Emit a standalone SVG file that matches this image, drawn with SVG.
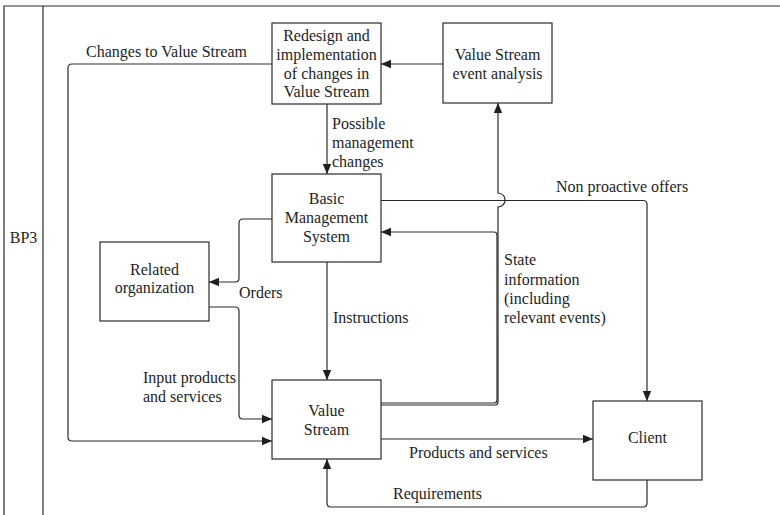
<svg xmlns="http://www.w3.org/2000/svg" width="780" height="515" viewBox="0 0 780 515" font-family="Liberation Serif, DejaVu Serif, serif" font-size="16">
  <style>
    .box { fill: #ffffff; stroke: #2b2b2b; stroke-width: 1.2; }
    .frame { fill: none; stroke: #2b2b2b; stroke-width: 1.2; }
    .wire { fill: none; stroke: #2b2b2b; stroke-width: 1.2; }
    .lbl { fill: #1e1e1e; }
    .mid { text-anchor: middle; }
  </style>
  <defs>
    <marker id="arrow" viewBox="0 0 10 10" refX="10" refY="5" markerWidth="10" markerHeight="10" markerUnits="userSpaceOnUse" orient="auto">
      <path d="M0,0.8 L10,5 L0,9.2 Z" fill="#1e1e1e"/>
    </marker>
  </defs>
  <rect width="780" height="515" fill="#ffffff"/>

  <!-- Pool frame with lane header -->
  <g id="frame">
    <path class="frame" d="M4,515 V6 H780"/>
    <line class="frame" x1="43" y1="6" x2="43" y2="515"/>
    <text class="lbl mid" x="23.5" y="243">BP3</text>
  </g>

  <!-- Connectors -->
  <g id="connectors">
    <!-- Value Stream event analysis -> Redesign -->
    <path class="wire" d="M443,64 H381" marker-end="url(#arrow)"/>
    <!-- Redesign -> Basic Management System -->
    <path class="wire" d="M327,104 V174" marker-end="url(#arrow)"/>
    <!-- Changes to Value Stream -->
    <path class="wire" d="M272,64 H72 Q68,64 68,68 V437 Q68,441 72,441 H272" marker-end="url(#arrow)"/>
    <!-- Orders -->
    <path class="wire" d="M272,219 H243 Q239,219 239,223 V278 Q239,282 235,282 H209" marker-end="url(#arrow)"/>
    <!-- Input products and services -->
    <path class="wire" d="M209,307 H235 Q239,307 239,311 V415 Q239,419 243,419 H272" marker-end="url(#arrow)"/>
    <!-- Instructions -->
    <path class="wire" d="M327,262 V380" marker-end="url(#arrow)"/>
    <!-- State information back to Basic Management System -->
    <path class="wire" d="M381,403 H494 Q497,403 497,400 V235 Q497,232 494,232 H381" marker-end="url(#arrow)"/>
    <!-- Value Stream events to analysis, hopping over the offers line -->
    <path class="wire" d="M381,405 H495 Q498,405 498,402 V207 Q505,206 505,200 Q505,194 498,193 V103" marker-end="url(#arrow)"/>
    <!-- Non proactive offers -->
    <path class="wire" d="M381,200.5 H643 Q647,200.5 647,204.5 V401" marker-end="url(#arrow)"/>
    <!-- Products and services -->
    <path class="wire" d="M381,439 H593" marker-end="url(#arrow)"/>
    <!-- Requirements -->
    <path class="wire" d="M647,480 V503 Q647,507 643,507 H331 Q327,507 327,503 V459" marker-end="url(#arrow)"/>

    <g class="lbl">
      <text x="86" y="57">Changes to Value Stream</text>
      <text x="332" y="129">Possible</text>
      <text x="332" y="148">management</text>
      <text x="332" y="167">changes</text>
      <text x="239" y="298">Orders</text>
      <text x="143" y="383">Input products</text>
      <text x="143" y="402">and services</text>
      <text x="333" y="323">Instructions</text>
      <text x="556" y="192">Non proactive offers</text>
      <text x="504" y="265">State</text>
      <text x="504" y="285">information</text>
      <text x="504" y="304">(including</text>
      <text x="504" y="323">relevant events)</text>
      <text x="409" y="458">Products and services</text>
      <text x="393" y="499">Requirements</text>
    </g>
  </g>

  <g id="redesign" class="lbl">
    <rect class="box" x="272" y="23" width="109" height="81"/>
    <text x="326.5" y="41" class="mid">Redesign and</text>
    <text x="326.5" y="60" class="mid">implementation</text>
    <text x="326.5" y="79" class="mid">of changes in</text>
    <text x="326.5" y="97" class="mid">Value Stream</text>
  </g>

  <g id="event-analysis" class="lbl">
    <rect class="box" x="443" y="23" width="109" height="80"/>
    <text x="497.5" y="60" class="mid">Value Stream</text>
    <text x="497.5" y="79" class="mid">event analysis</text>
  </g>

  <g id="basic-management" class="lbl">
    <rect class="box" x="272" y="174" width="109" height="88"/>
    <text x="326.5" y="204" class="mid">Basic</text>
    <text x="326.5" y="223" class="mid">Management</text>
    <text x="326.5" y="242" class="mid">System</text>
  </g>

  <g id="related-organization" class="lbl">
    <rect class="box" x="100" y="242" width="109" height="79"/>
    <text x="154.5" y="275" class="mid">Related</text>
    <text x="154.5" y="293" class="mid">organization</text>
  </g>

  <g id="value-stream" class="lbl">
    <rect class="box" x="272" y="380" width="109" height="79"/>
    <text x="326.5" y="416" class="mid">Value</text>
    <text x="326.5" y="435" class="mid">Stream</text>
  </g>

  <g id="client" class="lbl">
    <rect class="box" x="593" y="401" width="109" height="79"/>
    <text x="647.5" y="443" class="mid">Client</text>
  </g>
</svg>
